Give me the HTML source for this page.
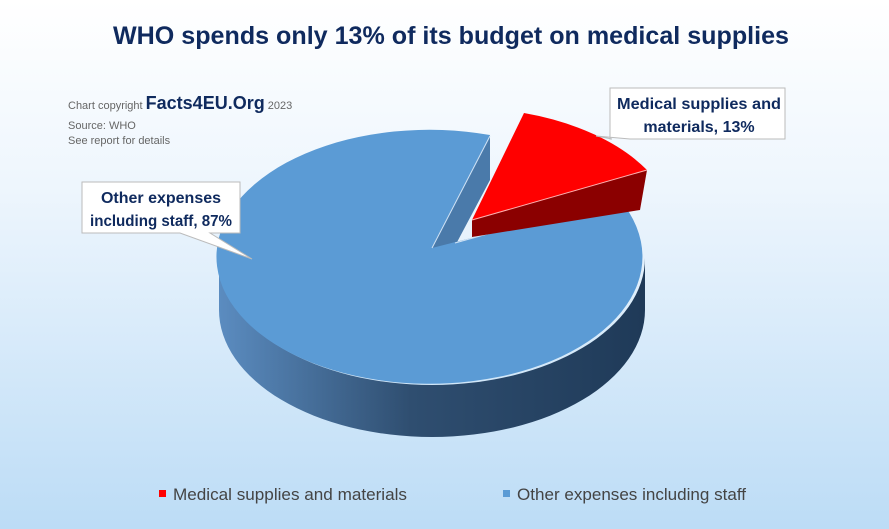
<!DOCTYPE html>
<html><head><meta charset="utf-8"><style>
body{margin:0;width:889px;height:529px;overflow:hidden;font-family:"Liberation Sans",Arial,sans-serif}
svg{display:block}
</style></head><body>
<svg width="889" height="529" xmlns="http://www.w3.org/2000/svg">
<defs>
<linearGradient id="bg" x1="0" y1="0" x2="0" y2="1">
<stop offset="0" stop-color="#ffffff"/><stop offset="0.35" stop-color="#eef6fd"/><stop offset="1" stop-color="#bcdcf6"/>
</linearGradient>
<linearGradient id="side" x1="0" y1="0" x2="1" y2="0">
<stop offset="0" stop-color="#5b8cc0"/><stop offset="0.45" stop-color="#2f4e70"/><stop offset="1" stop-color="#1f3a58"/>
</linearGradient>
</defs>
<rect width="889" height="529" fill="url(#bg)"/>
<text x="451" y="44" text-anchor="middle" font-size="25" font-weight="bold" fill="#0f2a5e" textLength="676" lengthAdjust="spacingAndGlyphs">WHO spends only 13% of its budget on medical supplies</text>
<text x="68" y="109" font-size="11" fill="#666">Chart copyright <tspan font-size="18" font-weight="bold" fill="#0f2a5e">Facts4EU.Org</tspan> 2023</text>
<text x="68" y="129" font-size="11" fill="#666">Source: WHO</text>
<text x="68" y="144" font-size="11" fill="#666">See report for details</text>
<path d="M219,258 A213,127 0 0 0 645,258 L645,310 A213,127 0 0 1 219,310 Z" fill="url(#side)"/>
<path d="M432,248 L490,135 L490,180 L455,246 Z" fill="#4a7aaa"/>
<path d="M432,248 L490,135 A213,127 0 1 0 620,200 Z" fill="#5b9bd5"/>
<line x1="432" y1="248" x2="490" y2="136" stroke="#cfe2f5" stroke-width="1"/>
<line x1="455" y1="243" x2="620" y2="197" stroke="#cfe2f5" stroke-width="1"/>
<path d="M472,220 L647,170 L640,210 L472,237 Z" fill="#8b0000"/>
<path d="M472,220 L524,113 A213,127 0 0 1 647,170 Z" fill="#ff0000"/>
<line x1="472" y1="220" x2="647" y2="170" stroke="#ffb0b0" stroke-width="1"/>
<path d="M610,88 H785 V139 H630 L596,136 L612,139 H610 Z" fill="#fff" stroke="#bbb"/>
<text x="699" y="109" text-anchor="middle" font-size="16" font-weight="bold" fill="#0f2a5e" textLength="164" lengthAdjust="spacingAndGlyphs">Medical supplies and</text>
<text x="699" y="132" text-anchor="middle" font-size="16" font-weight="bold" fill="#0f2a5e">materials, 13%</text>
<path d="M82,182 H240 V233 H210 L252,259 L180,233 H82 Z" fill="#fff" stroke="#bbb"/>
<text x="161" y="203" text-anchor="middle" font-size="16" font-weight="bold" fill="#0f2a5e">Other expenses</text>
<text x="161" y="226" text-anchor="middle" font-size="16" font-weight="bold" fill="#0f2a5e" textLength="142" lengthAdjust="spacingAndGlyphs">including staff, 87%</text>
<rect x="159" y="490" width="7" height="7" fill="#ff0000"/>
<text x="173" y="500" font-size="16.5" fill="#444" textLength="234" lengthAdjust="spacingAndGlyphs">Medical supplies and materials</text>
<rect x="503" y="490" width="7" height="7" fill="#5b9bd5"/>
<text x="517" y="500" font-size="16.5" fill="#444" textLength="229" lengthAdjust="spacingAndGlyphs">Other expenses including staff</text>
</svg>
</body></html>
